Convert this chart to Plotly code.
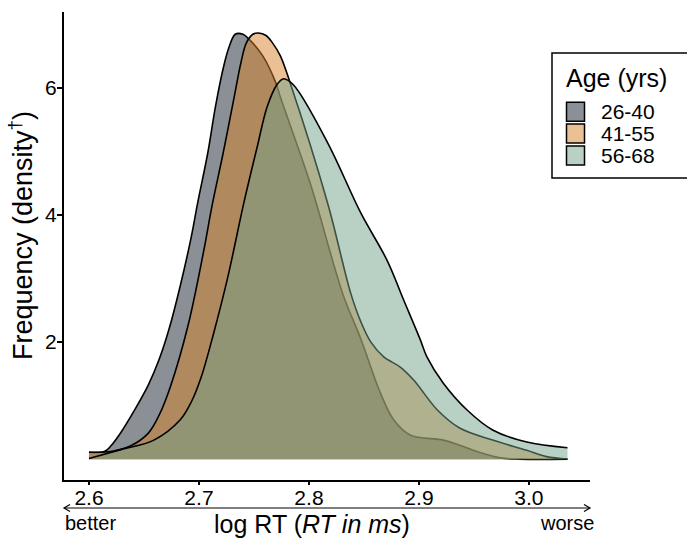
import plotly.graph_objects as go

# ---------------- data ----------------
groups = ["26-40", "41-55", "56-68"]
fill_colors = ["rgba(21,33,43,0.5)", "rgba(215,129,41,0.5)", "rgba(115,161,137,0.5)"]
swatch_colors = ["#8a9095", "#ebc094", "#b9d0c4"]

x_26_40 = [2.600, 2.614, 2.620, 2.629, 2.641, 2.654, 2.664, 2.673, 2.683, 2.693, 2.699, 2.708,
           2.715, 2.722, 2.727, 2.733, 2.740, 2.745, 2.758, 2.770, 2.774, 2.801, 2.831, 2.847,
           2.865, 2.877, 2.892, 2.922, 2.937, 2.956, 2.974, 2.992, 3.035]
y_26_40 = [0.26, 0.27, 0.36, 0.57, 0.91, 1.32, 1.73, 2.21, 2.88, 3.65, 4.20, 4.97,
           5.70, 6.30, 6.62, 6.84, 6.84, 6.77, 6.50, 6.07, 5.85, 4.50, 2.74, 2.05,
           1.19, 0.77, 0.53, 0.45, 0.37, 0.25, 0.17, 0.15, 0.15]

x_41_55 = [2.600, 2.620, 2.638, 2.654, 2.664, 2.674, 2.690, 2.704, 2.712, 2.722, 2.732, 2.738,
           2.743, 2.749, 2.754, 2.761, 2.767, 2.774, 2.783, 2.817, 2.838, 2.847, 2.856, 2.868,
           2.883, 2.895, 2.917, 2.937, 2.967, 2.998, 3.016, 3.035]
y_41_55 = [0.26, 0.27, 0.36, 0.56, 0.85, 1.29, 2.25, 3.40, 4.15, 4.97, 5.85, 6.38,
           6.70, 6.84, 6.86, 6.82, 6.70, 6.50, 6.07, 4.18, 2.76, 2.32, 2.00, 1.76,
           1.60, 1.40, 0.92, 0.64, 0.45, 0.29, 0.19, 0.15]

x_56_68 = [2.600, 2.629, 2.659, 2.683, 2.693, 2.702, 2.713, 2.726, 2.741, 2.753, 2.762, 2.771,
           2.777, 2.786, 2.817, 2.847, 2.871, 2.886, 2.901, 2.907, 2.922, 2.944, 2.967, 2.998,
           3.035]
y_56_68 = [0.16, 0.30, 0.45, 0.77, 1.05, 1.44, 2.11, 3.00, 4.20, 5.07, 5.70, 6.05,
           6.14, 6.04, 5.13, 4.03, 3.28, 2.66, 2.04, 1.77, 1.35, 0.92, 0.61, 0.42,
           0.33]

baseline = 0.15

x_tickvals = [2.6, 2.7, 2.8, 2.9, 3.0]
x_ticktext = ["2.6", "2.7", "2.8", "2.9", "3.0"]
y_tickvals = [2, 4, 6]
y_ticktext = ["2", "4", "6"]

series_x = [x_26_40, x_41_55, x_56_68]
series_y = [y_26_40, y_41_55, y_56_68]

# ---------------- layout geometry ----------------
W, H = 687, 540
ML, MR, MT, MB = 64, 97, 12, 60
PW, PH = W - ML - MR, H - MT - MB
FONT = "Liberation Sans, Arial, Helvetica, sans-serif"


def px_x(p):
    return (p - ML) / PW


def px_y(p):
    return (H - MB - p) / PH


fig = go.Figure()
for name, xs, ys, fc in zip(groups, series_x, series_y, fill_colors):
    fig.add_trace(go.Scatter(x=xs, y=[baseline] * len(xs), mode="lines",
                             line=dict(width=0, color="rgba(0,0,0,0)"),
                             showlegend=False, hoverinfo="skip"))
    fig.add_trace(go.Scatter(x=xs, y=ys, mode="lines", name=name,
                             line=dict(color="black", width=1.6, shape="spline", smoothing=1.0),
                             fill="tonexty", fillcolor=fc, showlegend=False))

fig.update_layout(
    width=W, height=H,
    margin=dict(l=ML, r=MR, t=MT, b=MB),
    paper_bgcolor="white", plot_bgcolor="white",
    font=dict(family=FONT, color="black"),
    xaxis=dict(range=[2.5773, 3.0555], showgrid=False, zeroline=False,
               showline=True, linecolor="black", linewidth=2,
               ticks="outside", ticklen=3, tickwidth=1.5, tickcolor="black",
               tickvals=x_tickvals, ticktext=x_ticktext, ticklabelstandoff=-5,
               tickfont=dict(size=21, family=FONT)),
    yaxis=dict(range=[-0.178, 7.19], showgrid=False, zeroline=False,
               showline=True, linecolor="black", linewidth=2,
               ticks="outside", ticklen=5, tickwidth=1.5, tickcolor="black",
               tickvals=y_tickvals, ticktext=y_ticktext, ticklabelstandoff=-4,
               tickfont=dict(size=21, family=FONT)),
)

ann = []
# axis titles
ann.append(dict(text="Frequency (density<sup>†</sup>)", xref="paper", yref="paper",
                x=px_x(21), y=px_y(236), textangle=-90, showarrow=False,
                xanchor="center", yanchor="middle", font=dict(size=27, family=FONT)))
ann.append(dict(text="log RT (<i>RT in ms</i>)", xref="paper", yref="paper",
                x=px_x(312), y=px_y(524), showarrow=False,
                xanchor="center", yanchor="middle", font=dict(size=25, family=FONT)))
ann.append(dict(text="better", xref="paper", yref="paper", x=px_x(63), y=px_y(523),
                showarrow=False, xanchor="left", yanchor="middle", font=dict(size=20, family=FONT)))
ann.append(dict(text="worse", xref="paper", yref="paper", x=px_x(596), y=px_y(523),
                showarrow=False, xanchor="right", yanchor="middle", font=dict(size=20, family=FONT)))

shapes = []
# double arrow (line + open heads)
ay = 508
shapes.append(dict(type="line", xref="paper", yref="paper", x0=px_x(64), x1=px_x(590),
                   y0=px_y(ay), y1=px_y(ay), line=dict(color="black", width=1)))
for tip, back in ((64, 70), (590, 584)):
    path = "M {:.5f},{:.5f} L {:.5f},{:.5f} L {:.5f},{:.5f}".format(
        px_x(back), px_y(ay - 3.5), px_x(tip), px_y(ay), px_x(back), px_y(ay + 3.5))
    shapes.append(dict(type="path", xref="paper", yref="paper", path=path,
                       line=dict(color="black", width=1.2)))

# legend (drawn)
shapes.append(dict(type="rect", xref="paper", yref="paper", x0=px_x(552), x1=px_x(692),
                   y0=px_y(178), y1=px_y(53), line=dict(color="black", width=1.5),
                   fillcolor="white", layer="above"))
ann.append(dict(text="Age (yrs)", xref="paper", yref="paper", x=px_x(564), y=px_y(78),
                showarrow=False, xanchor="left", yanchor="middle", font=dict(size=25, family=FONT)))
row_c = [111.7, 133.5, 155.5]
for name, sc, cy in zip(groups, swatch_colors, row_c):
    shapes.append(dict(type="rect", xref="paper", yref="paper", x0=px_x(566.5), x1=px_x(584.5),
                       y0=px_y(cy + 9.5), y1=px_y(cy - 9.5), fillcolor=sc,
                       line=dict(color="black", width=1.5), layer="above"))
    ann.append(dict(text=name, xref="paper", yref="paper", x=px_x(599), y=px_y(cy),
                    showarrow=False, xanchor="left", yanchor="middle",
                    font=dict(size=21, family=FONT)))

fig.update_layout(annotations=ann, shapes=shapes)
fig.write_html("out.html", config={"displayModeBar": False},
               post_script="document.body.style.margin='0';document.body.style.overflow='hidden';")
